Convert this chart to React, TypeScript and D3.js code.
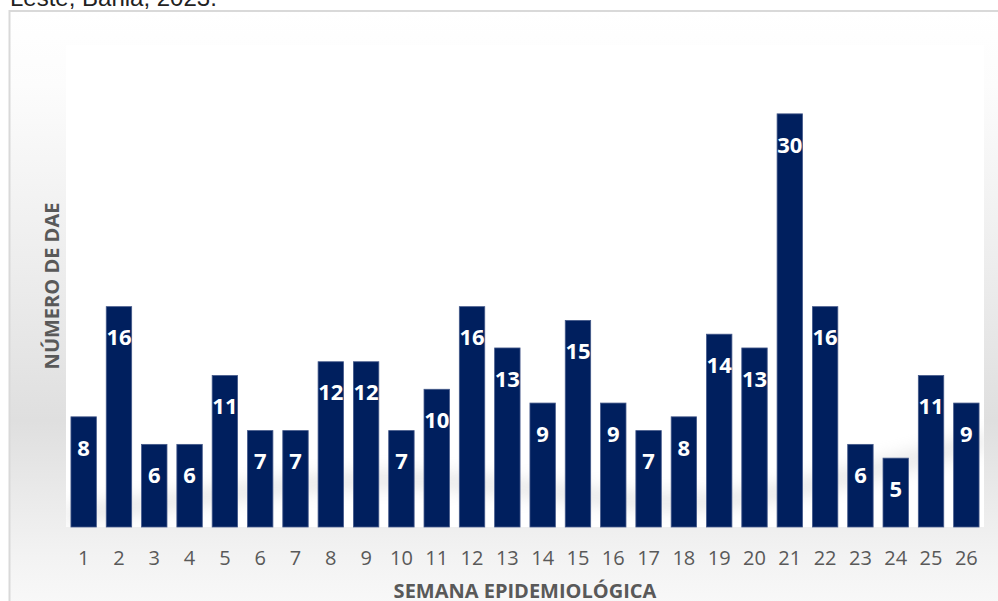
import React from "react";
import * as d3 from "d3";

const weeks = Array.from({ length: 26 }, (_, i) => String(i + 1));
const cases = [8, 16, 6, 6, 11, 7, 7, 12, 12, 7, 10, 16, 13, 9, 15, 9, 7, 8, 14, 13, 30, 16, 6, 5, 11, 9];
const yMax = 35;
const titleTail = "Leste, Bahia, 2023.";
const xTitle = "SEMANA EPIDEMIOLÓGICA";
const yTitle = "NÚMERO DE DAE";

const W = 998;
const H = 601;
const plot = { left: 66, right: 984, top: 45, bottom: 527 };
const font = "'Open Sans', 'Noto Sans', sans-serif";

const App: React.FC = () => {
    const x = d3
        .scaleBand<string>()
        .domain(weeks)
        .range([plot.left, plot.right])
        .paddingInner(0.28)
        .paddingOuter(0.14);

    const y = d3.scaleLinear().domain([0, yMax]).range([plot.bottom, plot.top]);

    // soft wavy shadow behind the bars
    const shadow = d3
        .line<[number, number]>()
        .x((d) => d[0])
        .y((d) => d[1])
        .curve(d3.curveBasis);
    const shadowPts: [number, number][] = [
        [plot.left, 515],
        [200, 498],
        [380, 472],
        [560, 492],
        [700, 510],
        [850, 478],
        [plot.right, 440],
    ];

    return (
        <svg
            width={W}
            height={H}
            style={{ position: "absolute", left: 0, top: 0 }}
            fontFamily={font}
        >
            <defs>
                <linearGradient id="bg" x1="0" y1="0" x2="0" y2="1">
                    <stop offset="0" stopColor="#ffffff" />
                    <stop offset="0.12" stopColor="#fcfcfc" />
                    <stop offset="0.45" stopColor="#ebebeb" />
                    <stop offset="0.66" stopColor="#dfdfdf" />
                    <stop offset="0.88" stopColor="#f3f3f3" />
                    <stop offset="1" stopColor="#fbfbfb" />
                </linearGradient>
                <filter id="blur" x="-20%" y="-200%" width="140%" height="500%">
                    <feGaussianBlur stdDeviation="8" />
                </filter>
                <clipPath id="plotClip">
                    <rect
                        x={plot.left}
                        y={plot.top}
                        width={plot.right - plot.left}
                        height={plot.bottom - plot.top}
                    />
                </clipPath>
            </defs>

            <rect width={W} height={H} fill="#ffffff" />
            <text x={10} y={6} fontFamily="'Liberation Sans', Arial, sans-serif" fontSize={24} fill="#222">
                {titleTail}
            </text>

            {/* chart area */}
            <rect x={9.5} y={11} width={W + 20} height={H + 20} fill="url(#bg)" stroke="#d9d9d9" strokeWidth={2} />
            <rect
                x={plot.left}
                y={plot.top}
                width={plot.right - plot.left}
                height={plot.bottom - plot.top}
                fill="#ffffff"
            />
            <g clipPath="url(#plotClip)">
                <path
                    d={shadow(shadowPts) || ""}
                    fill="none"
                    stroke="#c8c8c8"
                    strokeWidth={18}
                    opacity={0.4}
                    filter="url(#blur)"
                />
            </g>

            {/* bars */}
            {cases.map((v, i) => (
                <rect
                    key={i}
                    x={x(weeks[i])}
                    y={y(v)}
                    width={x.bandwidth()}
                    height={y(0) - y(v)}
                    fill="#001f5e"
                    stroke="#44598a"
                    strokeWidth={0.8}
                />
            ))}

            {/* data labels */}
            {cases.map((v, i) => (
                <text
                    key={i}
                    x={(x(weeks[i]) ?? 0) + x.bandwidth() / 2}
                    y={y(v) + 31}
                    dy="0.35em"
                    textAnchor="middle"
                    fontSize={22}
                    fontWeight="bold"
                    fill="#ffffff"
                >
                    {v}
                </text>
            ))}

            {/* x ticks */}
            {weeks.map((w) => (
                <text
                    key={w}
                    x={(x(w) ?? 0) + x.bandwidth() / 2}
                    y={558}
                    dy="0.35em"
                    textAnchor="middle"
                    fontSize={20}
                    fill="#595959"
                >
                    {w}
                </text>
            ))}

            <text
                x={(plot.left + plot.right) / 2}
                y={598}
                textAnchor="middle"
                fontSize={20}
                fontWeight="bold"
                fill="#595959"
            >
                {xTitle}
            </text>
            <text
                transform={`translate(52, ${(plot.top + plot.bottom) / 2}) rotate(-90)`}
                textAnchor="middle"
                dy="0.35em"
                fontSize={20}
                fontWeight="bold"
                fill="#595959"
            >
                {yTitle}
            </text>
        </svg>
    );
};

export default App;
